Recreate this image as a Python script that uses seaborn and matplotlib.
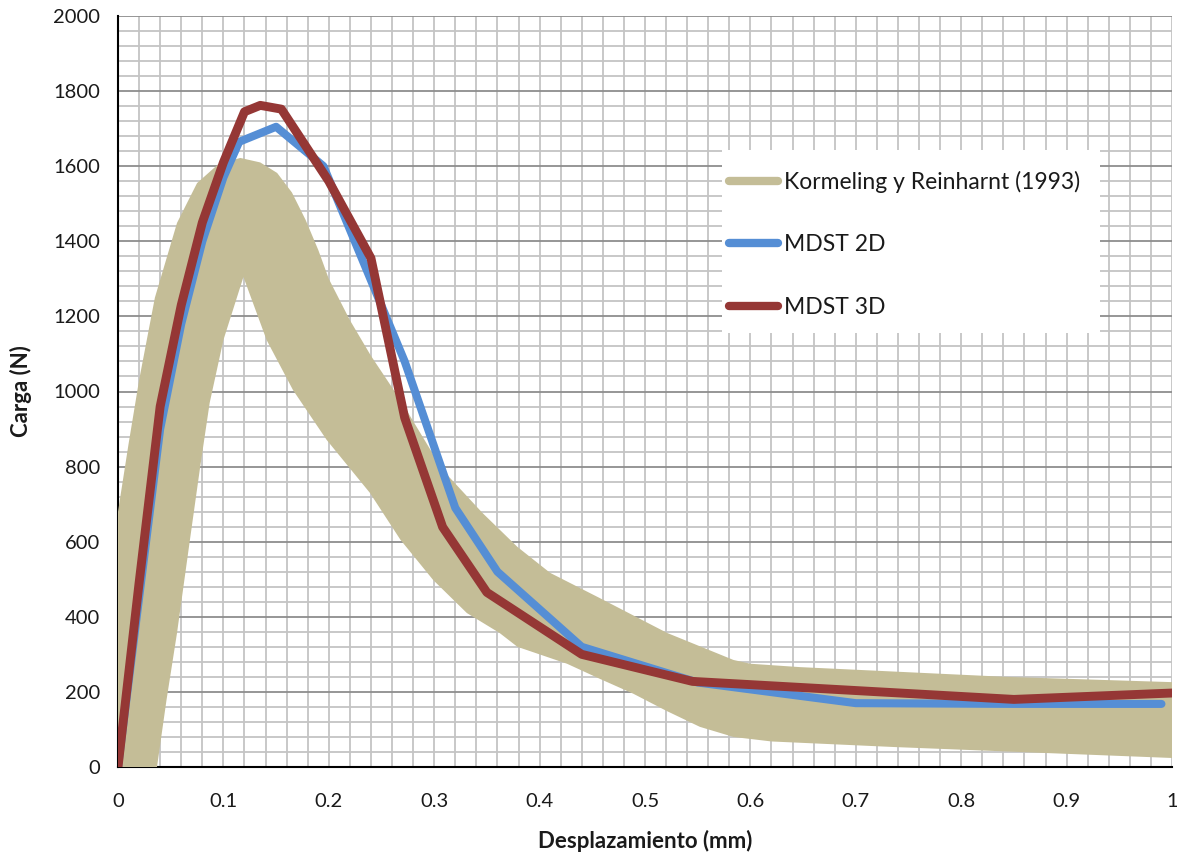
import matplotlib
matplotlib.use("Agg")
import matplotlib.pyplot as plt
import seaborn as sns
import pandas as pd
from matplotlib.lines import Line2D
from matplotlib.patches import Rectangle
from matplotlib.ticker import MultipleLocator, FixedLocator

# ---------------- data ----------------
# Experimental envelope (Kormeling y Reinhardt 1993): upper and lower bounds
band_upper_x = [0.0, 0.01, 0.02, 0.035, 0.056, 0.075, 0.095, 0.116, 0.135, 0.151, 0.165,
                0.178, 0.19, 0.2, 0.22, 0.24, 0.268, 0.308, 0.346, 0.379, 0.41, 0.457,
                0.521, 0.584, 0.6, 0.647, 0.843, 1.0]
band_upper_y = [680, 860, 1030, 1250, 1449, 1555, 1605, 1622, 1610, 1582, 1530,
                1457, 1377, 1300, 1190, 1095, 977, 791, 676, 586, 517, 450,
                357, 285, 275, 266, 240, 226]
band_lower_x = [0.037, 0.046, 0.056, 0.068, 0.078, 0.087, 0.1, 0.119, 0.141, 0.166,
                0.198, 0.239, 0.268, 0.299, 0.331, 0.362, 0.379, 0.426, 0.457, 0.489,
                0.52, 0.552, 0.584, 0.62, 0.738, 1.0]
band_lower_y = [0, 178, 357, 600, 800, 970, 1137, 1305, 1137, 1004,
                871, 730, 605, 498, 410, 357, 320, 275, 235, 195,
                150, 107, 80, 68, 53, 24]

mdst2d_x = [0.0, 0.02, 0.04, 0.06, 0.08, 0.1, 0.115, 0.15, 0.195, 0.272, 0.32, 0.36,
            0.44, 0.55, 0.7, 0.85, 0.99]
mdst2d_y = [0, 450, 900, 1180, 1400, 1570, 1665, 1705, 1600, 1080, 690, 520,
            320, 225, 170, 168, 168]

mdst3d_x = [0.0, 0.02, 0.04, 0.06, 0.08, 0.1, 0.12, 0.135, 0.155, 0.2, 0.24, 0.272,
            0.308, 0.35, 0.44, 0.545, 0.85, 1.0]
mdst3d_y = [0, 490, 960, 1230, 1450, 1610, 1745, 1762, 1752, 1560, 1355, 930,
            639, 465, 300, 228, 180, 197]

series_names = ["Kormeling y Reinharnt (1993)", "MDST 2D", "MDST 3D"]
series_colors = ["#C4BD97", "#558ED5", "#953735"]

x_ticks = [0, 0.1, 0.2, 0.3, 0.4, 0.5, 0.6, 0.7, 0.8, 0.9, 1.0]
x_tick_labels = ["0", "0.1", "0.2", "0.3", "0.4", "0.5", "0.6", "0.7", "0.8", "0.9", "1"]
y_ticks = [0, 200, 400, 600, 800, 1000, 1200, 1400, 1600, 1800, 2000]
y_tick_labels = [str(v) for v in y_ticks]

x_label = "Desplazamiento (mm)"
y_label = "Carga (N)"

# ---------------- style ----------------
sns.set_theme(style="white")
plt.rcParams['font.family'] = ['Lato', 'DejaVu Sans']
text_color = "#1a1a1a"

fig = plt.figure(figsize=(11.77, 8.52), dpi=100)
ax = fig.add_axes([118 / 1177, 85 / 852, 1054 / 1177, 751 / 852])

# envelope band
poly_x = [0.0] + band_upper_x + band_lower_x[::-1]
poly_y = [0] + band_upper_y + band_lower_y[::-1]
ax.fill(poly_x, poly_y, color=series_colors[0], lw=0, zorder=3)

df2 = pd.DataFrame({"x": mdst2d_x, "y": mdst2d_y})
df3 = pd.DataFrame({"x": mdst3d_x, "y": mdst3d_y})
sns.lineplot(data=df2, x="x", y="y", ax=ax, color=series_colors[1], lw=5.8,
             zorder=4, solid_capstyle="round", solid_joinstyle="round", legend=False)
sns.lineplot(data=df3, x="x", y="y", ax=ax, color=series_colors[2], lw=6.4,
             zorder=5, solid_capstyle="round", solid_joinstyle="round", legend=False)

ax.set_xlim(0, 1)
ax.set_ylim(0, 2000)
ax.xaxis.set_major_locator(FixedLocator(x_ticks))
ax.set_xticklabels(x_tick_labels)
ax.yaxis.set_major_locator(FixedLocator(y_ticks))
ax.set_yticklabels(y_tick_labels)
ax.xaxis.set_minor_locator(MultipleLocator(0.02))
ax.yaxis.set_minor_locator(MultipleLocator(40))

ax.set_axisbelow(True)
ax.grid(which="minor", color="#C4C4C4", lw=1.3)
ax.grid(which="major", axis="x", color="#C4C4C4", lw=1.3)
ax.grid(which="major", axis="y", color="#8E8E8E", lw=1.3)

for s in ["top", "right"]:
    ax.spines[s].set_visible(False)
for s in ["left", "bottom"]:
    ax.spines[s].set_color("black")
    ax.spines[s].set_linewidth(1.5)
    ax.spines[s].set_zorder(2.5)

ax.tick_params(axis="both", which="both", length=0)
ax.tick_params(axis="y", pad=13, labelsize=14.5, labelcolor=text_color)
ax.tick_params(axis="x", pad=19, labelsize=14.5, labelcolor=text_color)

ax.set_xlabel(x_label, fontsize=16, fontweight="bold", color=text_color, labelpad=14)
ax.set_ylabel(y_label, fontsize=16, fontweight="bold", color=text_color, labelpad=15)

# legend background box
ax.add_patch(Rectangle((0.573, 0.578), 0.359, 0.244, transform=ax.transAxes,
                       facecolor="white", edgecolor="none", zorder=6))

handles = [Line2D([], [], color=c, lw=6, solid_capstyle="round") for c in series_colors]
leg = ax.legend(handles, series_names, loc="upper left",
                bbox_to_anchor=(0.5797, 0.7936), borderaxespad=0,
                frameon=False, fontsize=16.5, handlelength=2.15,
                handletextpad=0.25, labelspacing=1.8, borderpad=0)
leg.set_zorder(7)
for t in leg.get_texts():
    t.set_color(text_color)

fig.savefig("out.png", dpi=100)
